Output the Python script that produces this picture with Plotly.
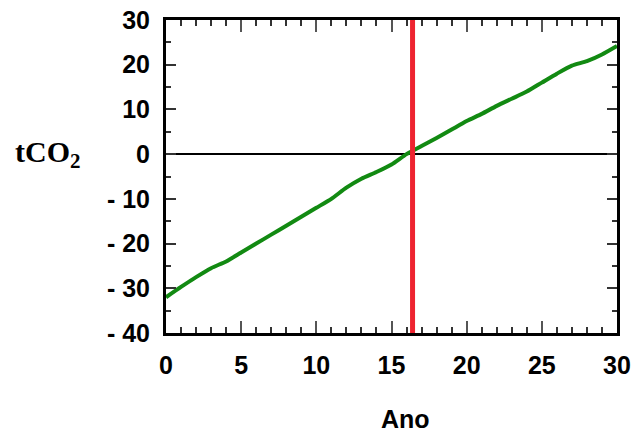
import plotly.graph_objects as go

years = list(range(0, 31))
tco2 = [-32, -29.7, -27.5, -25.5, -24, -22, -20, -18, -16, -14, -12, -10, -7.5, -5.5,
        -4, -2.3, 0, 1.8, 3.6, 5.5, 7.4, 9, 10.8, 12.4, 14, 16, 18, 19.8, 20.8, 22.3, 24.2]
payback_year = 16.4
x_ticks = [0, 5, 10, 15, 20, 25, 30]
y_ticks = [30, 20, 10, 0, -10, -20, -30, -40]
y_ticktext = ["30", "20", "10", "0", "- 10", "- 20", "- 30", "- 40"]

fig = go.Figure()
fig.add_trace(go.Scatter(x=years, y=tco2, mode="lines",
                         line=dict(color="#128a12", width=4, shape="spline", smoothing=0.6),
                         showlegend=False, hoverinfo="skip"))
fig.add_trace(go.Scatter(x=[payback_year, payback_year], y=[-40, 30], mode="lines",
                         line=dict(color="#ee2430", width=5),
                         showlegend=False, hoverinfo="skip"))

tickfont = dict(family="Liberation Sans, Arial", size=25, color="black", weight="bold")

fig.update_xaxes(range=[0, 30], tickvals=x_ticks, ticks="inside", ticklen=12, tickwidth=2,
                 tickcolor="#555555", showline=True, linewidth=3, linecolor="black",
                 mirror="allticks", showgrid=False, zeroline=False, tickfont=tickfont,
                 ticklabelstandoff=8, automargin=False,
                 minor=dict(dtick=1, ticks="inside", ticklen=6, tickwidth=2, tickcolor="#333333"))
fig.update_yaxes(range=[-40, 30], tickvals=y_ticks, ticktext=y_ticktext, ticks="inside",
                 ticklen=10, tickwidth=2, tickcolor="#333333", showline=True, linewidth=3,
                 linecolor="black", mirror="allticks", showgrid=False, zeroline=True,
                 zerolinecolor="black", zerolinewidth=1.5, tickfont=tickfont,
                 ticklabelstandoff=8, automargin=False,
                 minor=dict(dtick=5, ticks="inside", ticklen=5, tickwidth=2, tickcolor="#333333"))

fig.add_annotation(text="tCO<sub>2</sub>", xref="paper", yref="y", x=-0.262, y=0,
                   xanchor="center", yanchor="middle", showarrow=False,
                   font=dict(family="Liberation Serif, Times New Roman", size=30,
                             color="black", weight="bold"))
fig.add_annotation(text="Ano", xref="paper", yref="paper", x=0.53, y=-0.275,
                   xanchor="center", yanchor="middle", showarrow=False,
                   font=dict(family="Liberation Sans, Arial", size=25, color="black",
                             weight="bold"))

fig.update_layout(width=633, height=436, margin=dict(l=166, r=16, t=20, b=103),
                  plot_bgcolor="white", paper_bgcolor="white")

fig.write_html("out.html", config={"displayModeBar": False},
               post_script="document.body.style.margin='0';")
